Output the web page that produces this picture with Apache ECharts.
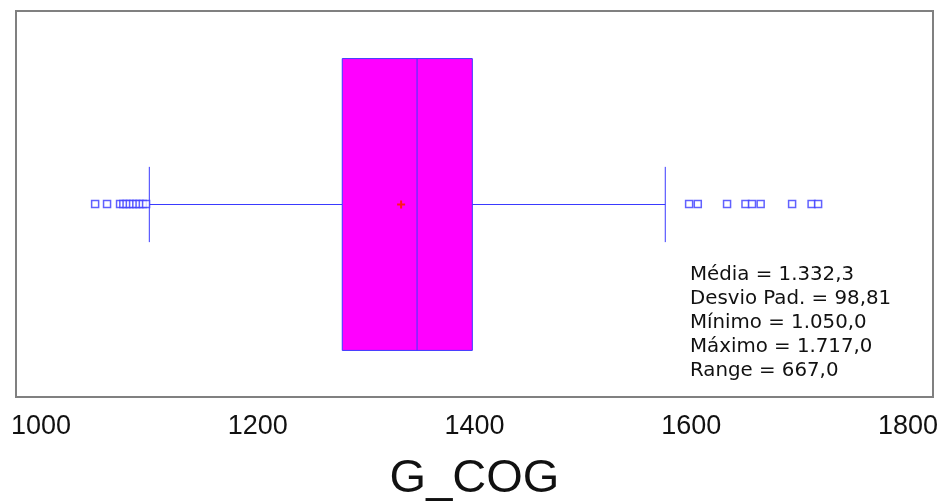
<!DOCTYPE html>
<html>
<head>
<meta charset="utf-8">
<script src="https://cdn.jsdelivr.net/npm/echarts@6/dist/echarts.min.js"></script>
<style>
  html, body { margin: 0; padding: 0; background: #fff; }
  #chart { width: 947px; height: 504px; }
</style>
</head>
<body>
<div id="chart"></div>
<script>
// G_COG distribution: five-number summary, mean and outliers
const variableName = 'G_COG';
const boxStats = [1100, 1278, 1347, 1398, 1576]; // lower whisker, Q1, median, Q3, upper whisker
const meanValue = 1332.3;
const outliersLow = [1050, 1061, 1073, 1076, 1079, 1082, 1085, 1088, 1091, 1094, 1097];
const outliersHigh = [1598, 1606, 1633, 1650, 1656, 1664, 1693, 1711, 1717];
const tickValues = [1000, 1200, 1400, 1600, 1800];
const statLines = [
  'Média = 1.332,3',
  'Desvio Pad. = 98,81',
  'Mínimo = 1.050,0',
  'Máximo = 1.717,0',
  'Range = 667,0'
];

const chart = echarts.init(document.getElementById('chart'));

const lineColor = '#3a3aff';
const boxFrac = 0.756;   // box height as fraction of the band
const capFrac = 0.195;   // whisker cap height as fraction of the band

function renderBox(params, api) {
  const y = api.value(6);
  const low = api.coord([api.value(0), y]);
  const q1 = api.coord([api.value(1), y]);
  const med = api.coord([api.value(2), y]);
  const q3 = api.coord([api.value(3), y]);
  const high = api.coord([api.value(4), y]);
  const mean = api.coord([api.value(5), y]);
  const band = api.size([0, 1])[1];
  const cy = Math.round(low[1]) + 0.5;
  const bh = band * boxFrac;
  const ch = band * capFrac;
  const ls = { stroke: lineColor, lineWidth: 1 };
  const ms = { stroke: '#ff1a1a', lineWidth: 2 };
  return {
    type: 'group',
    children: [
      { type: 'line', shape: { x1: low[0], y1: cy, x2: q1[0], y2: cy }, style: ls },
      { type: 'line', shape: { x1: q3[0], y1: cy, x2: high[0], y2: cy }, style: ls },
      { type: 'line', shape: { x1: low[0], y1: cy - ch / 2, x2: low[0], y2: cy + ch / 2 }, style: ls },
      { type: 'line', shape: { x1: high[0], y1: cy - ch / 2, x2: high[0], y2: cy + ch / 2 }, style: ls },
      { type: 'rect', shape: { x: q1[0], y: cy - bh / 2, width: q3[0] - q1[0], height: bh },
        style: { fill: '#ff00ff', stroke: lineColor, lineWidth: 1 } },
      { type: 'line', shape: { x1: med[0], y1: cy - bh / 2, x2: med[0], y2: cy + bh / 2 }, style: ls },
      { type: 'line', shape: { x1: mean[0] - 4, y1: cy, x2: mean[0] + 4, y2: cy }, style: ms },
      { type: 'line', shape: { x1: mean[0], y1: cy - 4, x2: mean[0], y2: cy + 4 }, style: ms }
    ]
  };
}

const outlierData = outliersLow.concat(outliersHigh).map(v => [v, 0]);

chart.setOption({
  animation: false,
  grid: {
    left: 16, right: 14, top: 11, bottom: 107,
    outerBoundsMode: 'none',
    containLabel: false,
    show: true, borderColor: '#808080', borderWidth: 2, backgroundColor: '#fff'
  },
  xAxis: {
    type: 'value',
    min: 977, max: 1823,
    splitLine: { show: false },
    axisLine: { show: false },
    axisTick: { show: false },
    axisLabel: {
      customValues: tickValues,
      formatter: v => String(v),
      fontFamily: 'Liberation Sans, Arial, sans-serif',
      fontSize: 27, color: '#111', margin: 16
    },
    name: variableName,
    nameLocation: 'middle',
    nameGap: 59,
    nameTextStyle: { fontFamily: 'Liberation Sans, Arial, sans-serif', fontSize: 47, color: '#111' }
  },
  yAxis: {
    type: 'category',
    data: [variableName],
    show: false
  },
  series: [
    {
      type: 'custom',
      renderItem: renderBox,
      data: [[...boxStats, meanValue, 0]],
      encode: { x: [0, 1, 2, 3, 4, 5], y: 6 },
      z: 2
    },
    {
      type: 'scatter',
      data: outlierData,
      symbol: 'rect',
      symbolSize: 7,
      itemStyle: { color: '#fff', borderColor: lineColor, borderWidth: 1.5 },
      z: 3
    }
  ],
  graphic: [
    {
      type: 'text',
      left: 690, top: 263,
      z: 10,
      style: {
        text: statLines.join('\n'),
        font: '19.8px "DejaVu Sans", Verdana, sans-serif',
        lineHeight: 24,
        fill: '#111'
      }
    },
    {
      type: 'rect',
      z: 11,
      shape: { x: 686, y: 381, width: 244, height: 13 },
      style: { fill: '#fff' }
    }
  ]
});
</script>
</body>
</html>
